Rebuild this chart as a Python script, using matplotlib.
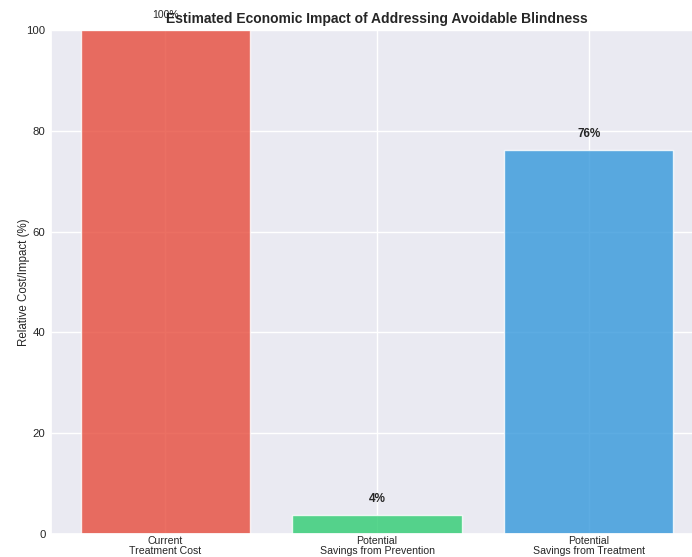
import matplotlib
matplotlib.use("Agg")
import matplotlib.pyplot as plt
import seaborn as sns

sns.set_theme(style="darkgrid")
plt.rcParams['font.family'] = ['Liberation Sans', 'DejaVu Sans']

# relative cost / impact values (%)
categories = ["Current\nTreatment Cost",
              "Potential\nSavings from Prevention",
              "Potential\nSavings from Treatment"]
values = [100, 3.8, 76.2]
colors = ["#e74c3c", "#2ecc71", "#3498db"]

fig = plt.figure(figsize=(6.92, 5.57), dpi=100)
ax = fig.add_axes([51 / 692, 23 / 557, 652 / 692, 504 / 557])

x = range(len(categories))
bars = ax.bar(x, values, color=colors, alpha=0.8, width=0.8)

for bar, v in zip(bars, values):
    weight = "normal" if v >= 100 else "bold"
    size = 7.5 if v >= 100 else 8.5
    ax.text(bar.get_x() + bar.get_width() / 2, v + 2, f"{v:.0f}%",
            ha="center", va="bottom", fontsize=size, fontweight=weight,
            color="#262626")

ax.set_xticks(list(x))
ax.set_xticklabels(categories, fontsize=7.6, linespacing=1.0)
ax.tick_params(axis="x", length=0, pad=1.5)
ax.tick_params(axis="y", labelsize=8.2, length=0, pad=4)
ax.set_ylim(0, 100)
ax.set_xlim(-0.54, 2.54)
ax.set_ylabel("Relative Cost/Impact (%)", fontsize=8.3)
ax.yaxis.set_label_coords(-0.032, 0.5)
ax.set_title("Estimated Economic Impact of Addressing Avoidable Blindness",
             fontsize=10, fontweight="bold", pad=5)

fig.savefig("out.png", dpi=100)
